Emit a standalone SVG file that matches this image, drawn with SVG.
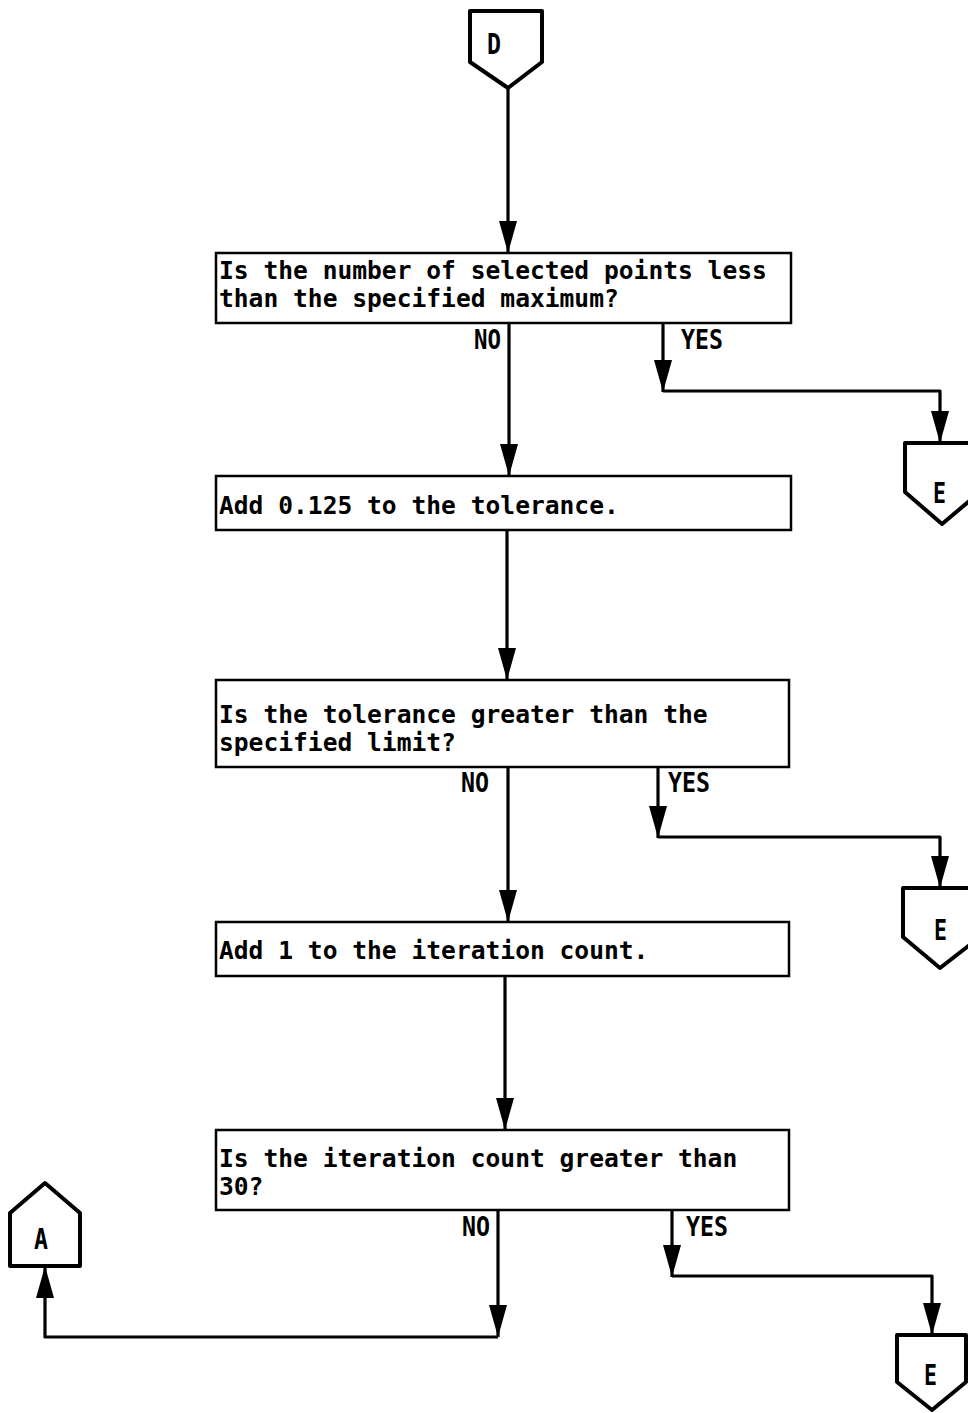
<svg xmlns="http://www.w3.org/2000/svg" width="968" height="1413" viewBox="0 0 968 1413">
  <style>
    .box { fill: #fff; stroke: #000; stroke-width: 2.5; }
    .conn { fill: #fff; stroke: #000; stroke-width: 4; stroke-linejoin: round; }
    .line { fill: none; stroke: #000; stroke-width: 3.2; stroke-linejoin: round; }
    .txt { font-family: "DejaVu Sans Mono", "Liberation Mono", monospace; font-size: 24.6px; font-weight: bold; fill: #000; }
    .lbl { font-family: "DejaVu Sans Mono", "Liberation Mono", monospace; font-size: 26px; font-weight: bold; fill: #000; }
    .cl { font-family: "DejaVu Sans Mono", "Liberation Mono", monospace; font-size: 28px; font-weight: bold; fill: #000; }
  </style>
  <defs>
    <marker id="arrow" markerUnits="userSpaceOnUse" viewBox="0 0 32 18" markerWidth="32" markerHeight="18" refX="32" refY="9" orient="auto">
      <path d="M0,0 L32,9 L0,18 z" fill="#000"/>
    </marker>
  </defs>

  <rect width="968" height="1413" fill="#fff"/>

  <!-- flow lines -->
  <g id="connectors">
    <path class="line" d="M508,88 V253" marker-end="url(#arrow)"/>
    <path class="line" d="M509,323 V476" marker-end="url(#arrow)"/>
    <path class="line" d="M663,323 V392" marker-end="url(#arrow)"/>
    <path class="line" d="M663,391 H940 V443" marker-end="url(#arrow)"/>
    <path class="line" d="M507,530 V680" marker-end="url(#arrow)"/>
    <path class="line" d="M508,767 V922" marker-end="url(#arrow)"/>
    <path class="line" d="M658,767 V838" marker-end="url(#arrow)"/>
    <path class="line" d="M658,837 H940 V888" marker-end="url(#arrow)"/>
    <path class="line" d="M505,976 V1130" marker-end="url(#arrow)"/>
    <path class="line" d="M498,1210 V1337" marker-end="url(#arrow)"/>
    <path class="line" d="M498,1337 H45 V1266" marker-end="url(#arrow)"/>
    <path class="line" d="M672,1210 V1277" marker-end="url(#arrow)"/>
    <path class="line" d="M672,1276 H932 V1335" marker-end="url(#arrow)"/>
  </g>

  <!-- branch labels -->
  <g id="labels">
    <text class="lbl" x="474" y="349" textLength="27" lengthAdjust="spacingAndGlyphs">NO</text>
    <text class="lbl" x="681" y="349" textLength="42" lengthAdjust="spacingAndGlyphs">YES</text>
    <text class="lbl" x="461" y="792" textLength="28" lengthAdjust="spacingAndGlyphs">NO</text>
    <text class="lbl" x="668" y="792" textLength="42" lengthAdjust="spacingAndGlyphs">YES</text>
    <text class="lbl" x="462" y="1236" textLength="28" lengthAdjust="spacingAndGlyphs">NO</text>
    <text class="lbl" x="686" y="1236" textLength="42" lengthAdjust="spacingAndGlyphs">YES</text>
  </g>

  <g id="conn-D">
    <path class="conn" d="M470,11 H542 V62 L508,88 L470,62 Z"/>
    <text class="cl" x="487" y="54" textLength="14" lengthAdjust="spacingAndGlyphs">D</text>
  </g>

  <g id="q-points">
    <rect class="box" x="216" y="253" width="575" height="70"/>
    <text class="txt" x="219" y="279">Is the number of selected points less</text>
    <text class="txt" x="219" y="307">than the specified maximum?</text>
  </g>

  <g id="conn-E1">
    <path class="conn" d="M905,443 H980 V492 L942,524 L905,492 Z"/>
    <text class="cl" x="933" y="503" textLength="13" lengthAdjust="spacingAndGlyphs">E</text>
  </g>

  <g id="add-tolerance">
    <rect class="box" x="216" y="476" width="575" height="54"/>
    <text class="txt" x="219" y="514">Add 0.125 to the tolerance.</text>
  </g>

  <g id="q-tolerance">
    <rect class="box" x="216" y="680" width="573" height="87"/>
    <text class="txt" x="219" y="723">Is the tolerance greater than the</text>
    <text class="txt" x="219" y="751">specified limit?</text>
  </g>

  <g id="conn-E2">
    <path class="conn" d="M903,888 H980 V937 L940,968 L903,937 Z"/>
    <text class="cl" x="934" y="940" textLength="13" lengthAdjust="spacingAndGlyphs">E</text>
  </g>

  <g id="add-iteration">
    <rect class="box" x="216" y="922" width="573" height="54"/>
    <text class="txt" x="219" y="959">Add 1 to the iteration count.</text>
  </g>

  <g id="q-iteration">
    <rect class="box" x="216" y="1130" width="573" height="80"/>
    <text class="txt" x="219" y="1167">Is the iteration count greater than</text>
    <text class="txt" x="219" y="1195">30?</text>
  </g>

  <g id="conn-A">
    <path class="conn" d="M45,1183 L80,1213 V1266 H10 V1213 Z"/>
    <text class="cl" x="34" y="1249" textLength="14" lengthAdjust="spacingAndGlyphs">A</text>
  </g>

  <g id="conn-E3">
    <path class="conn" d="M897,1335 H966 V1382 L932,1410 L897,1382 Z"/>
    <text class="cl" x="924" y="1385" textLength="13" lengthAdjust="spacingAndGlyphs">E</text>
  </g>
</svg>
